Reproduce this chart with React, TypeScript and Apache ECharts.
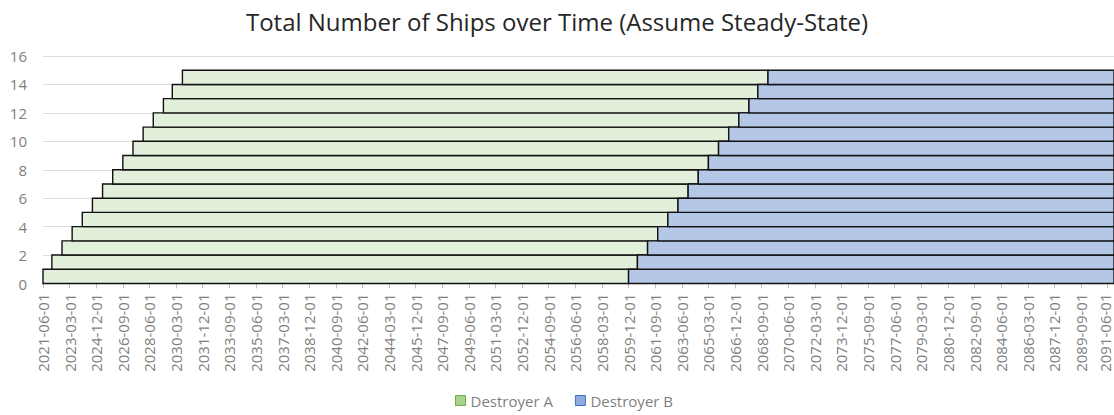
import React, { useEffect, useRef } from "react";
import * as echarts from "echarts";

// Commissioning month of each Destroyer A hull (bottom band = first ship)
const destroyerAStart = [
  "2021-06", "2022-01", "2022-09", "2023-05", "2024-01",
  "2024-09", "2025-05", "2026-01", "2026-09", "2027-05",
  "2028-01", "2028-09", "2029-05", "2029-12", "2030-08",
];

// Month each hull is replaced by a Destroyer B
const destroyerBStart = [
  "2059-12", "2060-07", "2061-03", "2061-11", "2062-07",
  "2063-03", "2063-11", "2064-07", "2065-03", "2065-11",
  "2066-07", "2067-03", "2067-11", "2068-06", "2069-02",
];

// Time axis span (monthly categories)
const axisStart = "2021-06";
const axisEnd = "2091-11";

const yTicks = { min: 0, max: 16, interval: 2 };

const seriesNames = ["Destroyer A", "Destroyer B"];
const fillColors = ["#e2efda", "#b4c7e7"];
const legendFill = ["#a9d18e", "#8faadc"];
const legendBorder = ["#70ad47", "#4472c4"];

function monthIndex(s: string): number {
  const [y, m] = s.split("-").map(Number);
  const [y0, m0] = axisStart.split("-").map(Number);
  return (y - y0) * 12 + (m - m0);
}

function buildMonths(): string[] {
  const out: string[] = [];
  let [y, m] = axisStart.split("-").map(Number);
  const [ye, me] = axisEnd.split("-").map(Number);
  while (y < ye || (y === ye && m <= me)) {
    out.push(`${y}-${String(m).padStart(2, "0")}-01`);
    m += 1;
    if (m > 12) {
      m = 1;
      y += 1;
    }
  }
  return out;
}

export default function App() {
  const ref = useRef<HTMLDivElement>(null);

  useEffect(() => {
    if (!ref.current) return;
    const chart = echarts.init(ref.current, undefined, { renderer: "svg" });
    const months = buildMonths();
    const lastIdx = months.length - 1;
    // last labelled month sits close to the right edge; nudge it inward
    const lastLabelIdx = Math.floor(lastIdx / 21) * 21;

    const aData = destroyerAStart.map((d, i) => [monthIndex(d), monthIndex(destroyerBStart[i]), i]);
    const bData = destroyerBStart.map((d, i) => [monthIndex(d), lastIdx, i]);

    const makeRender = (fill: string) => (_params: any, api: any) => {
      const p0 = api.coord([api.value(0), api.value(2)]);
      const p1 = api.coord([api.value(1), api.value(2) + 1]);
      return {
        type: "rect",
        shape: { x: p0[0], y: p1[1], width: p1[0] - p0[0], height: p0[1] - p1[1] },
        style: { fill, stroke: "#111", lineWidth: 1.4 },
      };
    };

    const font = "'Open Sans', 'Liberation Sans', sans-serif";

    chart.setOption({
      animation: false,
      title: {
        text: "Total Number of Ships over Time (Assume Steady-State)",
        left: "center",
        top: 4,
        textStyle: { fontFamily: font, fontSize: 24, fontWeight: "normal", color: "#262626" },
      },
      legend: {
        left: 450,
        top: 388,
        itemWidth: 10,
        itemHeight: 10,
        itemGap: 22,
        icon: "rect",
        textStyle: { fontFamily: font, fontSize: 15, color: "#7f7f7f" },
        data: seriesNames.map((n, i) => ({
          name: n,
          itemStyle: { color: legendFill[i], borderColor: legendBorder[i], borderWidth: 1 },
        })),
      },
      grid: {
        left: 43,
        right: 0,
        top: 56,
        bottom: 131.5,
        containLabel: false,
        outerBoundsMode: "none",
      },
      xAxis: {
        type: "category",
        data: months,
        boundaryGap: false,
        axisLine: { show: true, lineStyle: { color: "#d9d9d9" } },
        axisTick: { show: true, interval: 20, length: 5, lineStyle: { color: "#bfbfbf" } },
        axisLabel: {
          interval: 20,
          rotate: 90,
          margin: 10,
          fontFamily: font,
          fontSize: 15,
          lineHeight: 14,
          color: "#7f7f7f",
          formatter: (value: string, index: number) =>
            index === lastLabelIdx ? `{edge|${value}}` : value,
          rich: {
            edge: {
              fontFamily: font,
              fontSize: 15,
              lineHeight: 14,
              color: "#7f7f7f",
              padding: [0, 0, 6, 0],
            },
          },
        },
        splitLine: { show: false },
      },
      yAxis: {
        type: "value",
        min: yTicks.min,
        max: yTicks.max,
        interval: yTicks.interval,
        axisLine: { show: false },
        axisTick: { show: false },
        axisLabel: { margin: 16, fontFamily: font, fontSize: 15, color: "#7f7f7f" },
        splitLine: { lineStyle: { color: "#e3dcdc", width: 1 } },
      },
      series: [
        {
          name: seriesNames[0],
          type: "custom",
          renderItem: makeRender(fillColors[0]),
          itemStyle: { color: legendFill[0] },
          encode: { x: [0, 1], y: 2 },
          data: aData,
        },
        {
          name: seriesNames[1],
          type: "custom",
          renderItem: makeRender(fillColors[1]),
          itemStyle: { color: legendFill[1] },
          encode: { x: [0, 1], y: 2 },
          data: bData,
        },
      ],
    });

    return () => chart.dispose();
  }, []);

  return (
    <div
      ref={ref}
      style={{ position: "fixed", left: 0, top: 0, width: 1114, height: 415, background: "#fff" }}
    />
  );
}
